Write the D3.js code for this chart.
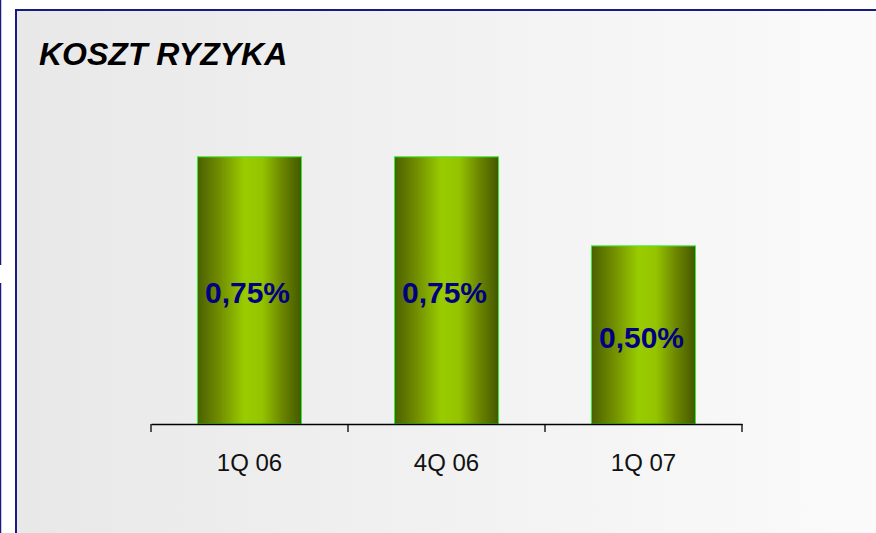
<!DOCTYPE html>
<html>
<head>
<meta charset="utf-8">
<script src="https://cdn.jsdelivr.net/npm/d3@7"></script>
<style>
  html, body { margin: 0; padding: 0; background: #fff; }
  svg { display: block; font-family: "Liberation Sans", Arial, sans-serif; }
</style>
</head>
<body>
<div id="chart"></div>
<script>
// ------- Data -------
const categories = ["1Q 06", "4Q 06", "1Q 07"];
const values = [0.75, 0.75, 0.5];
const valueLabels = ["0,75%", "0,75%", "0,50%"];
const title = "KOSZT RYZYKA";

const width = 876;
const height = 533;

const svg = d3.select("#chart")
  .append("svg")
  .attr("width", width)
  .attr("height", height);

const defs = svg.append("defs");

// panel background: light grey fading to near white
const bg = defs.append("linearGradient").attr("id", "panel-bg")
  .attr("x1", "0%").attr("x2", "100%").attr("y1", "0%").attr("y2", "0%");
bg.append("stop").attr("offset", "0%").attr("stop-color", "#e8e8e8");
bg.append("stop").attr("offset", "100%").attr("stop-color", "#fbfbfb");

// cylinder-like bar shading
const barGrad = defs.append("linearGradient").attr("id", "bar-fill")
  .attr("x1", "0%").attr("x2", "100%").attr("y1", "0%").attr("y2", "0%");
barGrad.append("stop").attr("offset", "0%").attr("stop-color", "#4b6000");
barGrad.append("stop").attr("offset", "22%").attr("stop-color", "#738f00");
barGrad.append("stop").attr("offset", "45%").attr("stop-color", "#99cc00");
barGrad.append("stop").attr("offset", "62%").attr("stop-color", "#95c400");
barGrad.append("stop").attr("offset", "82%").attr("stop-color", "#6a8400");
barGrad.append("stop").attr("offset", "100%").attr("stop-color", "#445800");

// ------- Frame -------
svg.append("rect")
  .attr("x", 16).attr("y", 10)
  .attr("width", width).attr("height", height)
  .attr("fill", "url(#panel-bg)")
  .attr("stroke", "#1a1a80")
  .attr("stroke-width", 2);

// thin navy edge on the far left (broken in the middle)
svg.append("line")
  .attr("x1", 0.5).attr("x2", 0.5).attr("y1", 0).attr("y2", 265)
  .attr("stroke", "#1a1a80").attr("stroke-width", 1.5);
svg.append("line")
  .attr("x1", 0.5).attr("x2", 0.5).attr("y1", 283).attr("y2", height)
  .attr("stroke", "#1a1a80").attr("stroke-width", 1.5);

svg.append("text")
  .attr("x", 39)
  .attr("y", 65)
  .attr("font-size", 32)
  .attr("font-weight", "bold")
  .attr("font-style", "italic")
  .attr("fill", "#000")
  .text(title);

// ------- Scales -------
const x = d3.scaleBand()
  .domain(categories)
  .range([151, 742])
  .paddingInner(0.472)
  .paddingOuter(0.236);

const y = d3.scaleLinear()
  .domain([0, 0.8])
  .range([424, 139]);

const data = categories.map((c, i) => ({ cat: c, value: values[i], label: valueLabels[i] }));

// ------- Bars -------
svg.selectAll("rect.bar")
  .data(data)
  .join("rect")
  .attr("class", "bar")
  .attr("x", (d) => x(d.cat))
  .attr("y", (d) => y(d.value))
  .attr("width", x.bandwidth())
  .attr("height", (d) => y(0) - y(d.value))
  .attr("fill", "url(#bar-fill)")
  .attr("stroke", "#33ee33")
  .attr("stroke-width", 1);

svg.selectAll("text.value")
  .data(data)
  .join("text")
  .attr("class", "value")
  .attr("x", (d) => x(d.cat) + x.bandwidth() / 2 - 2)
  .attr("y", (d) => (y(d.value) + y(0)) / 2 + 13)
  .attr("text-anchor", "middle")
  .attr("font-size", 30)
  .attr("font-weight", "bold")
  .attr("fill", "#000080")
  .text((d) => d.label);

// ------- Axis -------
const xAxis = d3.axisBottom(x).tickSize(0).tickPadding(30).tickSizeOuter(0);

const axisG = svg.append("g")
  .attr("transform", `translate(0,${y(0)})`)
  .call(xAxis);

axisG.select(".domain").attr("stroke", "#000").attr("stroke-width", 1.3);
axisG.selectAll(".tick text")
  .attr("font-size", 24)
  .attr("font-family", "'Liberation Sans', Arial, sans-serif")
  .attr("fill", "#111");

// separator ticks at band edges
const edges = d3.range(categories.length + 1).map((i) => x.range()[0] + i * x.step());
axisG.selectAll("line.sep")
  .data(edges)
  .join("line")
  .attr("class", "sep")
  .attr("x1", (d) => d).attr("x2", (d) => d)
  .attr("y1", 0).attr("y2", 8)
  .attr("stroke", "#000")
  .attr("stroke-width", 1.3);
</script>
</body>
</html>
